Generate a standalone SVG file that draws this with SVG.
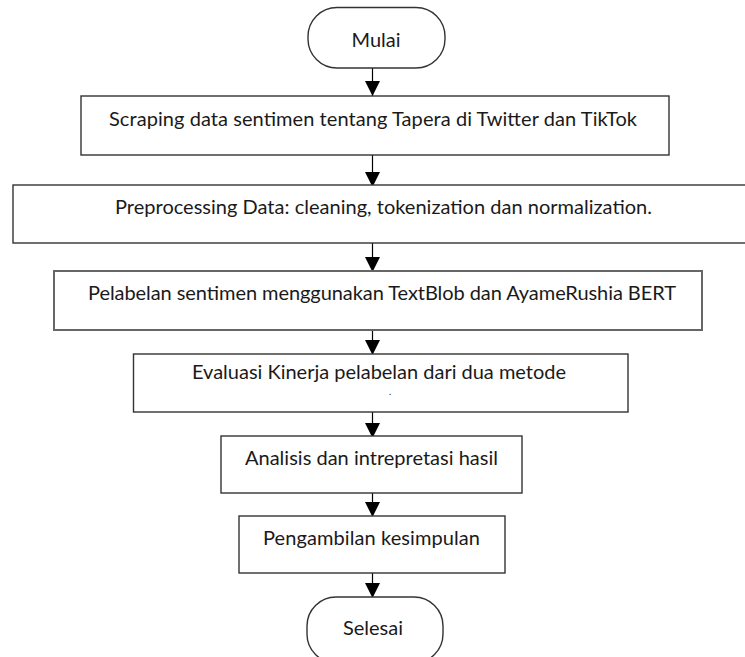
<svg xmlns="http://www.w3.org/2000/svg" width="745" height="657" viewBox="0 0 745 657">
<style>
.box{fill:#fff;stroke:#333;stroke-width:1.4}
.box3{fill:#fff;stroke:#666;stroke-width:2}
.t{font-family:Lato,"Liberation Sans",Arial,sans-serif;font-size:20px;fill:#1a1a1a;text-anchor:middle}
.c{stroke:#000;stroke-width:1.2;fill:none;marker-end:url(#ah)}
</style>
<defs>
<marker id="ah" markerUnits="userSpaceOnUse" markerWidth="15" markerHeight="15" refX="15" refY="7.5" orient="auto" viewBox="0 0 15 15">
<path d="M0,0 L15,7.5 L0,15 z" fill="#000"/>
</marker>
</defs>
<rect width="745" height="657" fill="#fff"/>
<g id="connectors">
<line class="c" x1="372.5" y1="68" x2="372.5" y2="96"/>
<line class="c" x1="372.5" y1="155" x2="372.5" y2="187"/>
<line class="c" x1="372.5" y1="236" x2="372.5" y2="272"/>
<line class="c" x1="372.5" y1="330" x2="372.5" y2="355"/>
<line class="c" x1="372.5" y1="412" x2="372.5" y2="438"/>
<line class="c" x1="372.5" y1="493" x2="372.5" y2="517"/>
<line class="c" x1="372.5" y1="573" x2="372.5" y2="598"/>
</g>
<g id="mulai">
<rect class="box" x="308" y="7.5" width="137" height="60.5" rx="29" ry="29"/>
<text class="t" x="376" y="47">Mulai</text>
</g>
<g id="scraping">
<rect class="box" x="81" y="96" width="588" height="59"/>
<text class="t" x="373" y="126" textLength="528">Scraping data sentimen tentang Tapera di Twitter dan TikTok</text>
</g>
<g id="preprocessing">
<rect class="box" x="13" y="185" width="760" height="58"/>
<text class="t" x="383.5" y="214" textLength="537">Preprocessing Data: cleaning, tokenization dan normalization.</text>
</g>
<g id="pelabelan">
<rect class="box3" x="54" y="271" width="648" height="59"/>
<text class="t" x="382" y="300" textLength="588">Pelabelan sentimen menggunakan TextBlob dan AyameRushia BERT</text>
</g>
<g id="evaluasi">
<rect class="box" x="133.5" y="354" width="494.5" height="58"/>
<text class="t" x="379" y="379" textLength="374">Evaluasi Kinerja pelabelan dari dua metode</text>
<text class="t" x="390" y="395" style="font-size:9px">.</text>
</g>
<g id="analisis">
<rect class="box" x="221" y="436" width="301" height="57"/>
<text class="t" x="371.5" y="465" textLength="253">Analisis dan intrepretasi hasil</text>
</g>
<g id="kesimpulan">
<rect class="box" x="239" y="516" width="266" height="57"/>
<text class="t" x="371.5" y="545" textLength="217">Pengambilan kesimpulan</text>
</g>
<g id="selesai">
<rect class="box" x="307" y="597" width="136" height="66" rx="29" ry="29"/>
<text class="t" x="373" y="635">Selesai</text>
</g>
</svg>
